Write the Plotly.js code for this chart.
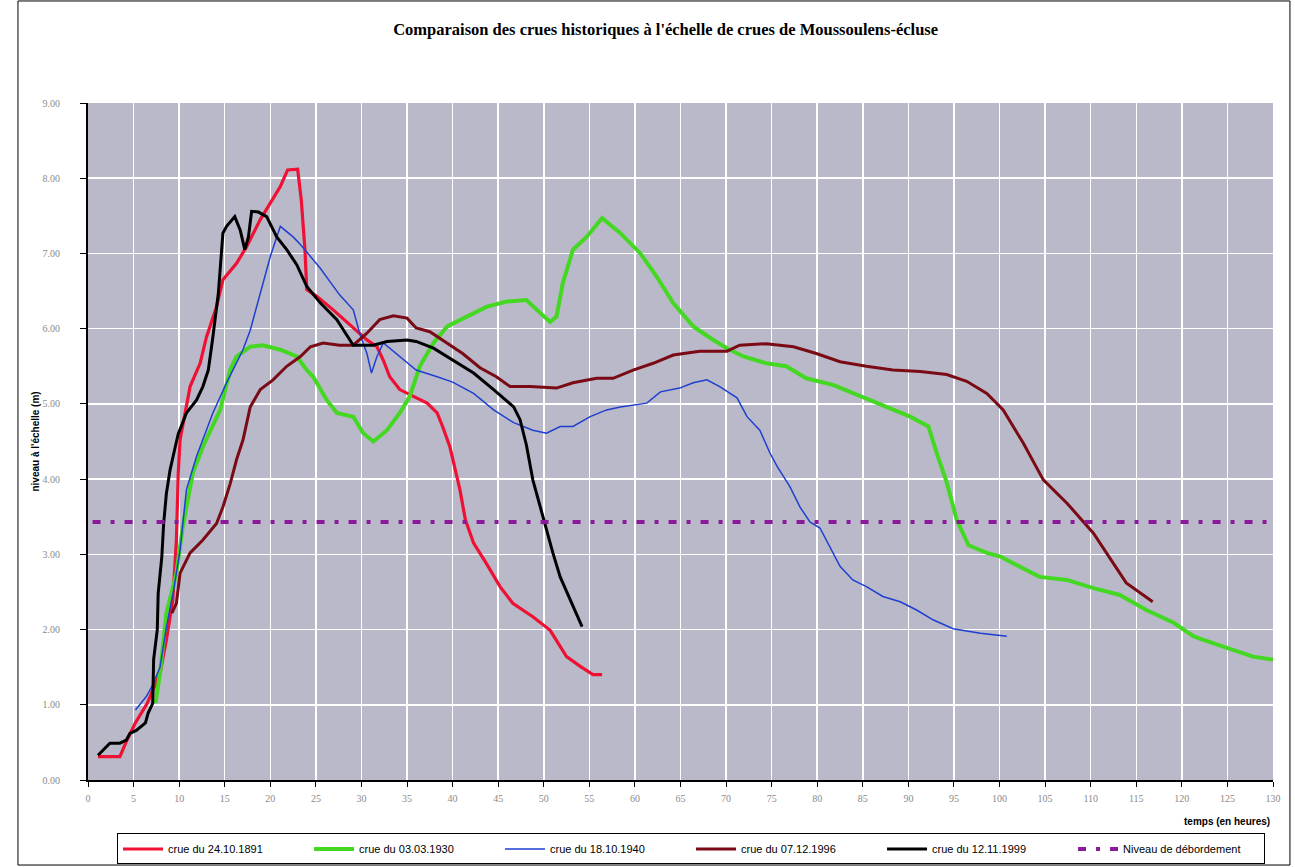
<!DOCTYPE html>
<html>
<head>
<meta charset="utf-8">
<script src="https://cdn.plot.ly/plotly-3.0.1.min.js"></script>
<style>html,body{margin:0;padding:0;background:#fff;}#chart{width:1295px;height:867px;}</style>
</head>
<body>
<div id="chart"></div>
<script>
// crue du 24.10.1891
const x1891 = [1.1,3.5,4.2,5.2,6.5,7.9,8.6,9.0,9.3,9.7,9.9,10.1,10.8,11.2,12.3,13.0,14.1,14.8,16.3,17.4,18.9,20.0,21.1,21.9,23.0,23.4,23.8,24.0,25.1,26.9,28.9,30.6,31.7,32.4,33.1,34.2,35.7,37.2,38.3,38.9,39.7,40.1,40.8,41.4,42.3,43.7,45.2,46.6,48.8,50.7,51.4,52.5,54.0,55.4,56.4];
const y1891 = [0.31,0.31,0.51,0.76,1.02,1.42,1.86,2.17,2.39,3.19,4.08,4.52,5.01,5.23,5.54,5.89,6.29,6.65,6.87,7.09,7.45,7.67,7.89,8.11,8.12,7.71,7.05,6.52,6.43,6.25,6.03,5.85,5.76,5.58,5.36,5.19,5.10,5.01,4.88,4.70,4.43,4.21,3.86,3.46,3.15,2.88,2.57,2.35,2.17,1.99,1.86,1.64,1.51,1.40,1.40];
// crue du 03.03.1930
const x1930 = [7.4,7.9,8.6,9.7,10.4,11.5,12.6,14.5,15.6,16.3,17.8,19.2,21.1,22.9,24.0,24.7,26.2,27.3,29.1,30.2,31.3,32.8,34.2,35.3,36.4,37.9,39.4,41.5,43.7,45.9,48.1,49.6,50.7,51.4,52.1,53.2,54.7,56.4,58.4,60.6,62.4,64.2,66.4,68.6,70.1,71.9,74.4,76.6,78.8,81.8,84.7,87.6,90.2,92.2,93.1,94.2,95.3,96.6,98.6,100.1,101.5,104.4,107.4,110.3,113.2,116.1,119.1,121.3,123.4,125.6,127.8,130.0];
const y1930 = [1.02,1.42,2.22,2.75,3.37,4.08,4.43,4.92,5.45,5.63,5.76,5.78,5.72,5.63,5.45,5.36,5.05,4.88,4.83,4.61,4.50,4.65,4.88,5.10,5.50,5.81,6.03,6.16,6.29,6.36,6.38,6.21,6.09,6.16,6.61,7.05,7.22,7.47,7.27,7.00,6.69,6.34,6.03,5.85,5.74,5.63,5.54,5.50,5.34,5.25,5.10,4.96,4.83,4.70,4.35,3.96,3.46,3.12,3.02,2.97,2.88,2.70,2.66,2.55,2.46,2.26,2.09,1.91,1.82,1.73,1.64,1.60];
// crue du 18.10.1940
const x1940 = [5.2,6.4,7.0,7.9,8.6,9.4,10.1,10.8,11.9,12.6,13.7,15.2,17.0,17.8,18.9,20.0,21.1,22.5,23.3,25.5,27.6,29.1,29.8,30.6,31.1,31.7,32.4,34.2,36.0,38.3,40.0,42.3,44.5,46.7,48.8,50.3,51.8,53.2,55.1,56.9,58.4,61.3,62.8,64.9,66.4,67.9,69.3,71.2,72.3,73.7,74.8,75.6,77.0,78.1,79.2,80.3,81.4,82.5,83.9,85.4,87.2,89.1,90.9,92.7,94.9,97.9,100.8];
const y1940 = [0.93,1.11,1.24,1.50,2.03,2.53,3.06,3.86,4.30,4.52,4.88,5.28,5.72,5.98,6.47,6.96,7.36,7.22,7.12,6.80,6.45,6.25,5.94,5.67,5.41,5.63,5.81,5.63,5.45,5.36,5.29,5.14,4.92,4.75,4.65,4.61,4.70,4.70,4.83,4.92,4.96,5.01,5.16,5.21,5.28,5.32,5.23,5.08,4.83,4.65,4.35,4.17,3.90,3.63,3.43,3.35,3.10,2.84,2.66,2.57,2.44,2.37,2.26,2.13,2.01,1.95,1.91];
// crue du 07.12.1996
const x1996 = [9.2,9.7,10.1,11.2,12.6,14.1,14.8,15.6,16.3,17.0,17.8,18.9,20.3,21.8,23.3,24.4,25.8,27.6,29.1,30.6,32.0,33.5,35.0,36.0,37.5,39.4,41.1,43.0,44.8,46.3,48.5,51.4,53.2,55.8,57.6,59.8,62.0,64.2,67.1,70.1,71.5,74.4,77.4,79.9,82.5,85.4,88.3,91.3,94.2,96.4,98.6,100.4,102.6,104.8,107.4,110.3,112.5,113.9,116.8];
const y1996 = [2.22,2.35,2.75,3.02,3.19,3.41,3.63,3.94,4.26,4.52,4.96,5.19,5.32,5.50,5.63,5.76,5.81,5.78,5.78,5.94,6.12,6.17,6.14,6.01,5.96,5.81,5.67,5.48,5.36,5.23,5.23,5.21,5.28,5.34,5.34,5.45,5.54,5.65,5.70,5.70,5.78,5.80,5.76,5.67,5.56,5.50,5.45,5.43,5.39,5.30,5.14,4.92,4.48,3.99,3.68,3.28,2.88,2.62,2.37];
// crue du 12.11.1999
const x1999 = [1.1,2.4,3.5,4.2,4.6,5.3,6.3,6.6,7.1,7.2,7.6,7.7,8.1,8.3,8.6,9.0,9.5,9.9,10.8,11.9,12.6,13.2,13.7,14.3,14.8,15.2,16.1,16.7,17.2,17.6,17.95,18.7,19.6,20.7,21.8,22.9,24.0,25.5,27.3,28.7,29.1,31.3,32.8,35.0,36.0,37.9,40.1,42.3,44.5,46.7,47.4,48.1,48.8,49.6,50.3,51.0,51.8,52.9,54.2];
const y1999 = [0.33,0.49,0.49,0.53,0.62,0.66,0.76,0.89,1.02,1.60,2.00,2.48,2.97,3.41,3.81,4.12,4.39,4.60,4.88,5.05,5.23,5.45,5.89,6.47,7.27,7.36,7.49,7.31,7.05,7.22,7.56,7.55,7.49,7.22,7.05,6.85,6.56,6.34,6.12,5.85,5.78,5.78,5.83,5.85,5.83,5.74,5.58,5.41,5.19,4.96,4.79,4.45,3.99,3.63,3.32,3.02,2.70,2.39,2.04];
// Niveau de débordement
const xDeb = [0.5, 130];
const yDeb = [3.43, 3.43];

const seriesNames = ["crue du 24.10.1891","crue du 03.03.1930","crue du 18.10.1940","crue du 07.12.1996","crue du 12.11.1999","Niveau de débordement"];
const yTickVals = [0,1,2,3,4,5,6,7,8,9];
const xTickVals = [0,5,10,15,20,25,30,35,40,45,50,55,60,65,70,75,80,85,90,95,100,105,110,115,120,125,130];

const traces = [
  {x:x1891, y:y1891, name:seriesNames[0], mode:'lines', line:{color:'#ee1133', width:3.2}},
  {x:x1930, y:y1930, name:seriesNames[1], mode:'lines', line:{color:'#44d822', width:4}},
  {x:x1940, y:y1940, name:seriesNames[2], mode:'lines', line:{color:'#1f3fd0', width:1.5}},
  {x:x1996, y:y1996, name:seriesNames[3], mode:'lines', line:{color:'#7a0a14', width:3}},
  {x:x1999, y:y1999, name:seriesNames[4], mode:'lines', line:{color:'#000000', width:3}},
  {x:xDeb, y:yDeb, name:seriesNames[5], mode:'lines', line:{color:'#8a1a9a', width:4, dash:'8px,10px,4px,10px'}}
];

const tickFont = {family:'Liberation Serif, serif', size:10, color:'#8a8a8a'};
const layout = {
  width:1295, height:867,
  paper_bgcolor:'#ffffff', plot_bgcolor:'#b9b9c9',
  margin:{l:88, r:22, t:103, b:87, autoexpand:false},
  title:{text:"Comparaison des crues historiques à l'échelle de crues de Moussoulens-écluse", font:{family:'Liberation Serif, serif', size:16.5, color:'#000', weight:'bold'}, x:0.514, xanchor:'center', y:0.966, yanchor:'middle'},
  showlegend:true,
  legend:{orientation:'h', x:0.0245, y:-0.079, xanchor:'left', yanchor:'top', bgcolor:'#ffffff', bordercolor:'#000', borderwidth:1, font:{family:'Liberation Sans Narrow, Liberation Sans, sans-serif', size:11, color:'#000'}, entrywidth:136, tracegroupgap:0, itemwidth:40},
  xaxis:{range:[0,130], tickvals:xTickVals, ticktext:xTickVals.map(String), showgrid:true, gridcolor:'#ffffff', gridwidth:1.5, zeroline:false, showline:true, linecolor:'#000', linewidth:2, ticks:'outside', ticklen:5, tickcolor:'#000', tickfont:tickFont, ticklabelstandoff:3, fixedrange:true},
  yaxis:{range:[0,9], tickvals:yTickVals, ticktext:yTickVals.map(v=>v.toFixed(2)), showgrid:true, gridcolor:'#ffffff', gridwidth:1.5, zeroline:false, showline:true, linecolor:'#000', linewidth:2, ticks:'outside', ticklen:6, tickcolor:'#000', tickfont:tickFont, ticklabelstandoff:18, fixedrange:true},
  annotations:[
    {text:"niveau à l'échelle (m)", xref:'paper', yref:'paper', x:-0.0447, y:0.5, xanchor:'center', yanchor:'middle', textangle:-90, showarrow:false, font:{family:'Liberation Sans Narrow, Liberation Sans, sans-serif', size:10, color:'#000', weight:'bold'}},
    {text:"temps (en heures)", xref:'paper', yref:'paper', x:0.999, y:-0.062, xanchor:'right', yanchor:'middle', showarrow:false, font:{family:'Liberation Sans Narrow, Liberation Sans, sans-serif', size:10, color:'#000', weight:'bold'}}
  ],
  shapes:[
    {type:'rect', xref:'paper', yref:'paper', x0:-0.0591, x1:1.0143, y0:-0.1256, y1:1.1507, line:{color:'#000', width:1}, fillcolor:'rgba(0,0,0,0)'}
  ]
};
Plotly.newPlot('chart', traces, layout, {displayModeBar:false, staticPlot:true});
</script>
</body>
</html>
